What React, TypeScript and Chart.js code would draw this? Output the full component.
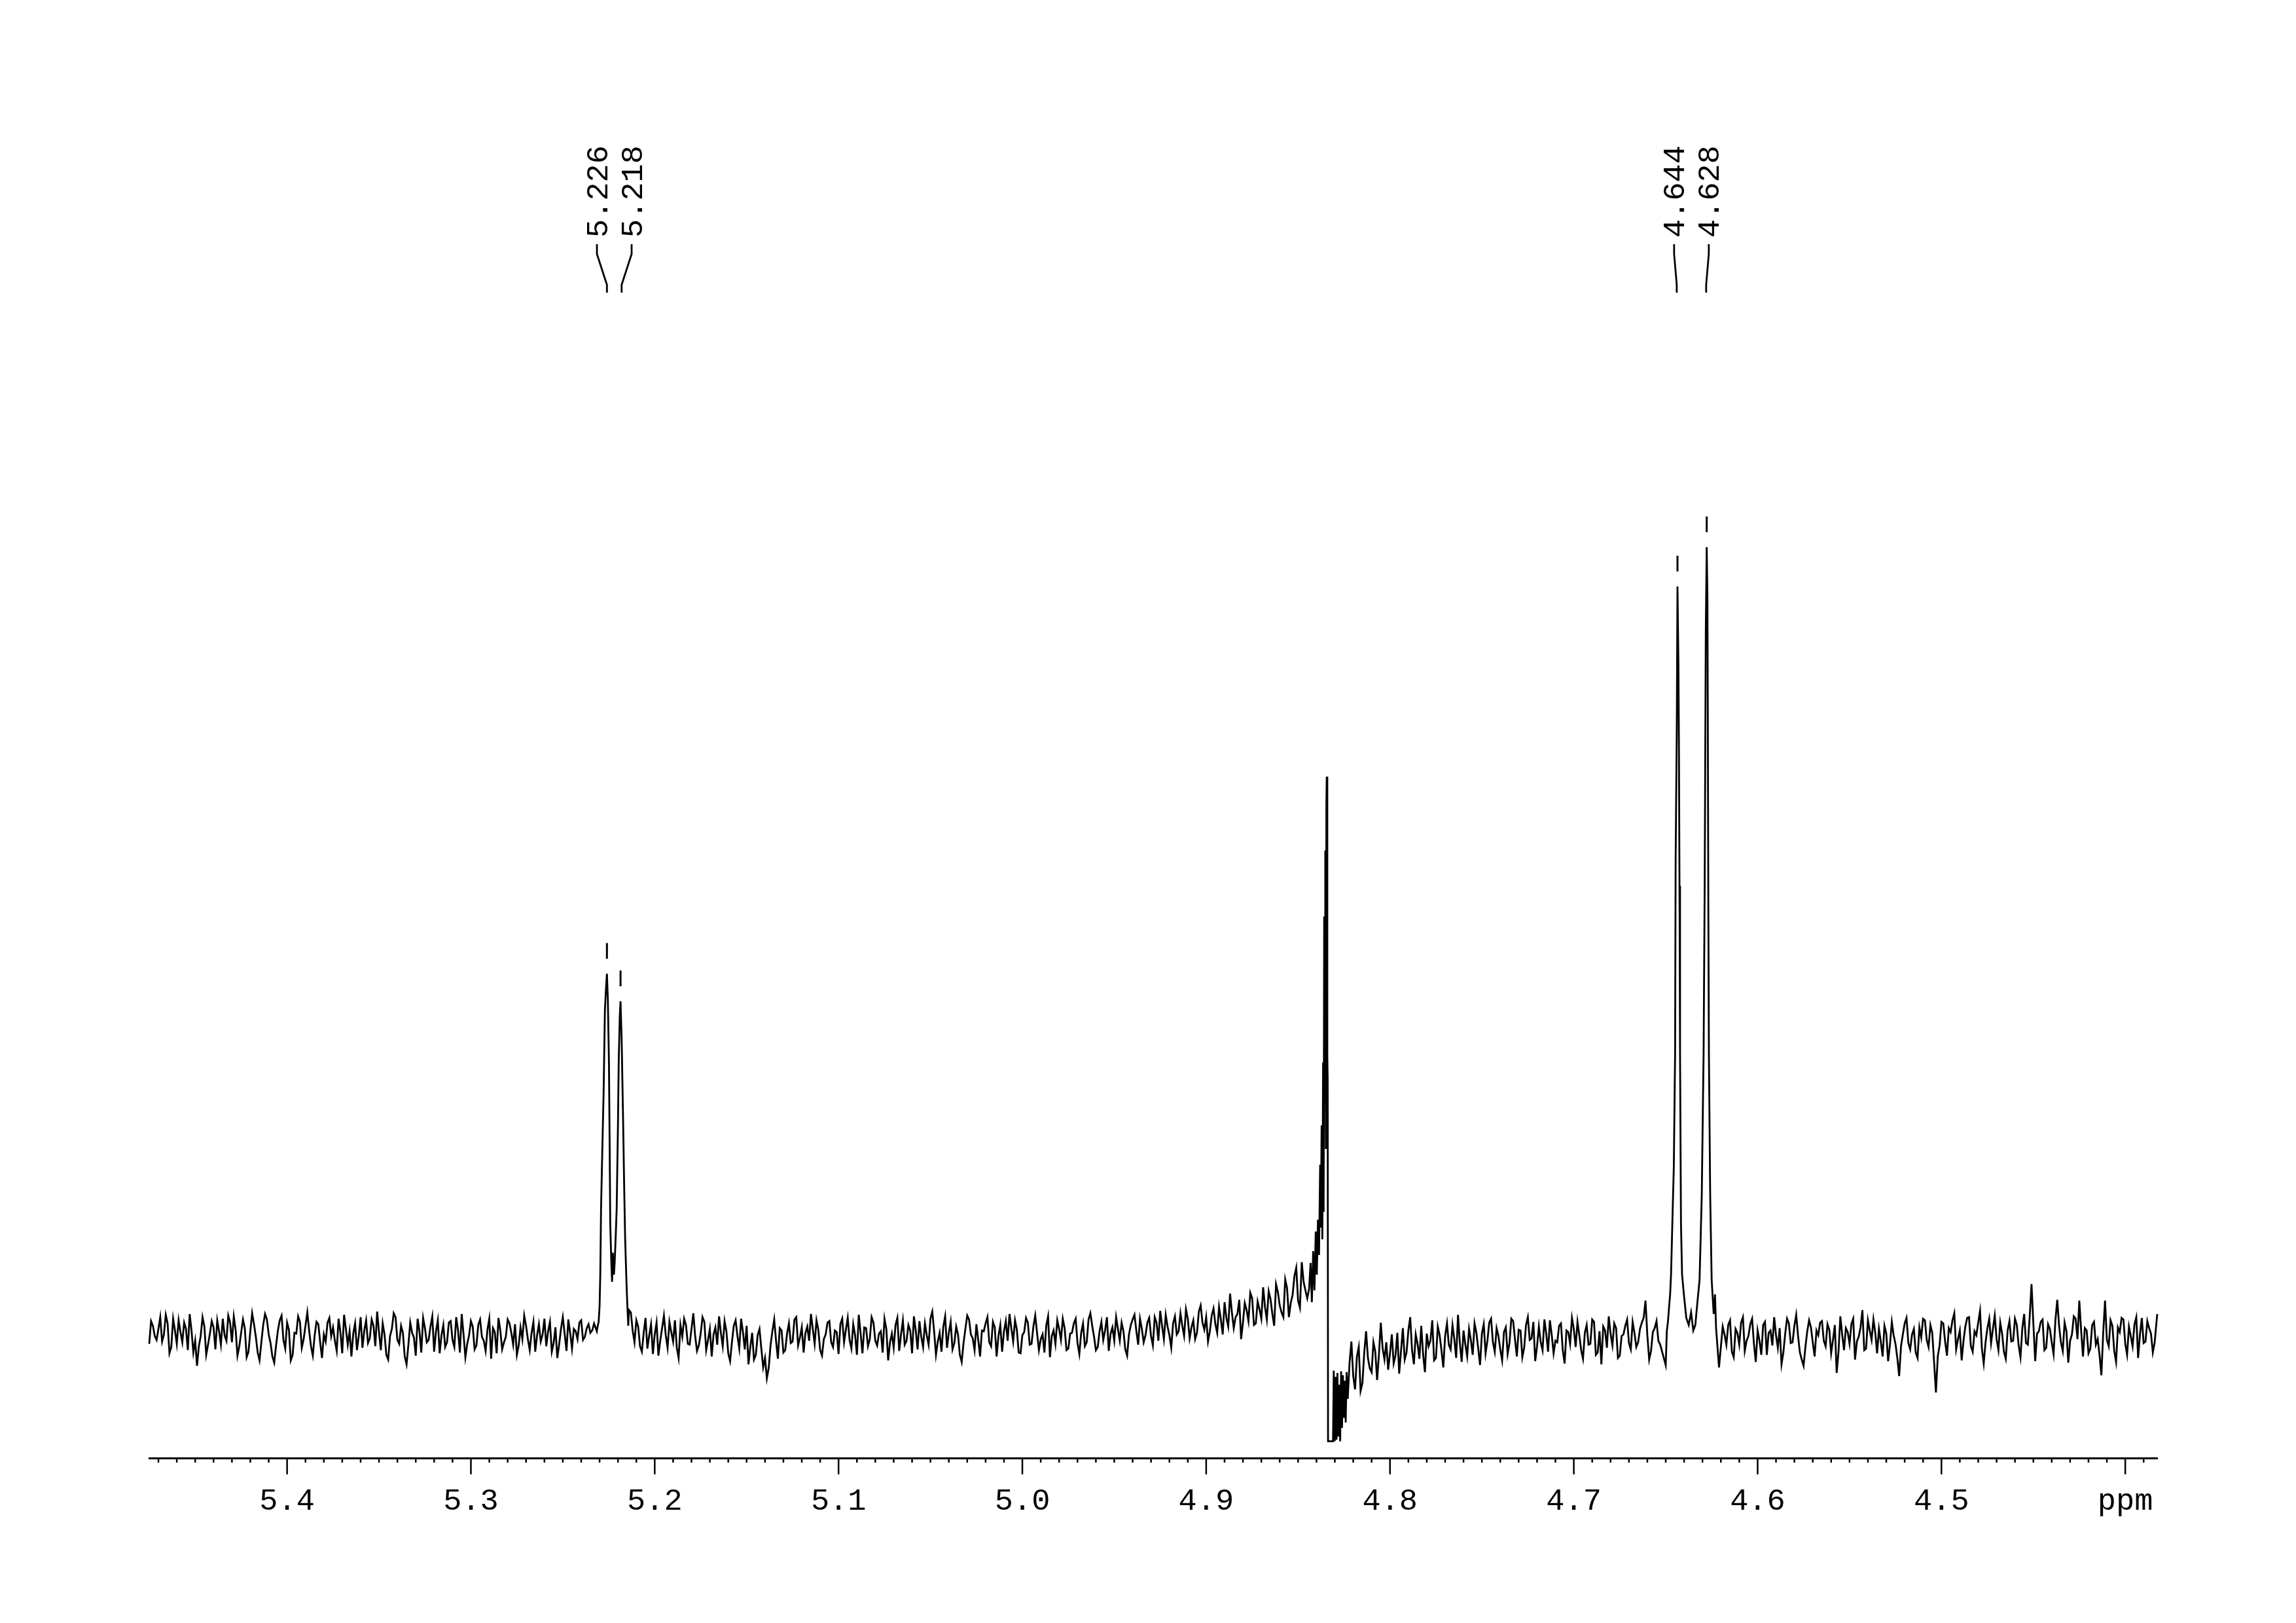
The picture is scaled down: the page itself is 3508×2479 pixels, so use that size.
import React, { useEffect, useRef } from 'react';
import { Chart, registerables } from 'chart.js';

Chart.register(...registerables);

// ---- axis range (ppm, reversed) and intensity range ----
const PPM_LEFT = 5.475;
const PPM_RIGHT = 4.3826;
const INT_MIN = -15.33;
const INT_MAX = 110;
const NOISE_STEP = 0.002;
const MID_OFFSET = 0.001;
const MINOR_TICK_STEP = 0.01;

// ---- tick labels ----
const TICK_VALUES = [5.4, 5.3, 5.2, 5.1, 5.0, 4.9, 4.8, 4.7, 4.6, 4.5, 4.4];
const TICK_LABELS = ['5.4', '5.3', '5.2', '5.1', '5.0', '4.9', '4.8', '4.7', '4.6', '4.5', 'ppm'];

// ---- peak picking labels ----
const PEAK_LABELS = ['5.226', '5.218', '4.644', '4.628'];
const PEAK_POSITIONS = [5.226, 5.218, 4.644, 4.628];

// ---- spectrum: baseline segment 5.475 -> 5.233 ----
const NOISE_A_START = 5.475;
const NOISE_A = [
  -0.8, 1.5, -0.3, 2.6, 0.4, 1.8, -1.2, 0.9, 2.2, -0.6,
  1.1, 3.0, -1.9, -3.6, 0.2, 1.4, -0.9, 2.1, -1.5, 0.8,
  2.4, -0.4, 1.9, 2.7, -2.3, 0.6, 1.2, -1.8, 3.1, 0.1,
  -2.9, 1.6, 2.3, -0.7, -3.2, 0.9, 2.8, -1.4, 1.0, -2.2,
  0.5, 2.0, -0.2, 3.2, -1.1, 0.3, 1.7, -2.6, -0.5, 2.5,
  1.3, -1.7, 0.7, 2.9, -0.9, -2.4, 1.8, 0.2, -1.3, 2.2,
  -0.1, 1.5, 3.3, -1.6, 0.4, -2.8, 1.1, 2.6, -0.8, 0.6,
  -3.4, 1.9, 0.0, 2.4, -1.9, 1.2, -0.3, 2.7, 0.8, -2.0,
  1.6, -0.6, 2.1, -1.2, 0.9, 3.0, -2.5, 0.3, 1.4, -1.0,
  2.3, -0.4, 1.0, -2.7, 0.7, 2.5, -1.5, 0.1, 1.8, -0.9,
  -2.2, 1.3, 2.8, -0.2, 0.6, -1.8, 1.7, 0.4, -1.1, 2.0,
  -0.7, -2.6, 1.1, 0.5, 2.3, -1.4, 0.8, 1.9, -0.3, 1.2,
  0.6, 1.8,
];
const NOISE_A_MID = [
  2.1, 0.2, 1.1, -0.5, 2.9, -2.0, 2.4, -0.8, 0.7, 1.9,
  -1.6, 0.9, -0.4, -1.1, 2.6, -2.2, 0.5, 1.3, 2.2, -0.9,
  0.3, 2.8, -0.6, 1.0, -1.1, 2.3, -2.5, 0.8, 1.7, -1.9,
  -0.6, 3.0, 0.4, -2.4, -1.0, 2.2, -0.3, 1.9, -2.9, 0.6,
  2.7, -1.3, 1.5, 0.9, -2.3, 2.0, -0.6, 0.4, 1.9, 0.2,
  -0.4, 2.4, -2.0, 1.1, 0.8, 0.5, -1.6, 2.6, 0.9, -0.7,
  2.3, -1.1, 0.7, 1.8, -2.2, 0.2, 3.1, -0.3, 1.5, -2.4,
  -0.9, 0.6, -2.3, 0.8, 2.5, -0.6, 1.4, -1.8, 2.2, 0.3,
  -1.2, 1.9, -0.3, 2.6, -1.9, 0.4, -0.8, 2.1, -1.5, 1.6,
  0.1, -1.7, 2.4, 1.2, -2.0, 0.9, -0.6, 2.3, 0.6, 1.7,
  -1.0, -0.2, 1.5, -1.6, 2.0, 0.3, -0.5, 2.4, 0.8, -1.8,
  1.3, -0.9, 2.6, -1.7, 0.6, 1.1, -0.2, 2.2, 0.1, 1.7,
  0.9,
];

// ---- doublet at 5.226 / 5.218 ----
const PEAK_A_PPM = [
  5.2315, 5.2310, 5.2305, 5.2300, 5.2296, 5.2292, 5.2285, 5.2278, 5.2271, 5.2265,
  5.2260, 5.2255, 5.2249, 5.2245, 5.2242, 5.2236, 5.2232, 5.2228, 5.2222, 5.2218,
  5.2212, 5.2207, 5.2200, 5.2196, 5.2190, 5.2186, 5.2180, 5.2172, 5.2166, 5.2161,
  5.2155, 5.2151, 5.2144, 5.2140,
];
const PEAK_A_INT = [
  0.8, 1.5, 2.0, 4.0, 8.2, 16.4, 24.0, 31.3, 41.7, 44.5,
  46.3, 43.0, 35.0, 24.0, 14.5, 9.5, 7.1, 10.8, 8.0, 9.5,
  13.0, 16.4, 27.0, 35.0, 41.0, 42.8, 38.0, 27.6, 19.0, 12.7,
  8.0, 5.3, 1.5, 3.5,
];

// ---- baseline 5.213 -> 4.845, rising into the solvent line ----
const NOISE_B_START = 5.213;
const NOISE_B = [
  3.2, -0.6, 1.4, -1.8, 2.5, 0.3, -2.1, 1.9, -0.4, 2.8,
  -1.3, 0.7, 2.2, -2.6, 0.1, 1.6, -0.9, 3.1, -1.7, 0.5,
  2.0, -0.3, -2.4, 1.3, 2.7, -1.1, 0.8, -3.0, 1.5, 0.2,
  2.4, -1.5, -3.4, 0.6, -2.2, 1.1, -3.8, -5.2, -1.0, 2.3,
  -2.7, 0.9, -1.6, 1.8, -0.5, 2.6, 0.0, -1.9, 1.4, 3.0,
  -0.8, 1.0, -2.3, 0.4, 2.1, -1.2, 0.7, 1.7, -0.6, 2.5,
  -1.4, 0.3, 2.9, -2.0, 1.2, -0.2, 1.9, -1.0, 0.8, 2.4,
  -2.9, 0.5, 1.6, -1.7, 2.2, -0.4, 0.9, 2.7, -1.5, 0.1,
  1.8, -0.9, 3.3, -2.2, 0.6, 1.4, -1.3, 2.0, -0.7, 0.4,
  -3.1, 1.1, 2.3, -0.1, 1.7, -2.4, 0.8, 2.6, -1.1, 1.3,
  0.2, -1.8, 2.1, 3.0, -0.5, 1.0, -2.0, 0.7, 1.9, -0.8,
  2.8, -1.6, 0.4, 1.5, -2.5, 0.9, 2.2, -0.3, 1.2, -1.4,
  0.6, 2.4, -2.1, 1.8, -0.6, 3.1, 0.1, -1.2, 2.0, 0.9,
  -1.7, 1.3, 2.6, -0.4, 0.8, -2.3, 1.6, 2.9, -0.9, 1.1,
  0.3, 2.5, -1.0, 1.9, 3.4, -0.2, 1.4, -1.3, 2.7, 0.8,
  1.5, 3.6, -0.1, 2.2, 0.6, 4.1, 1.0, -0.5, 2.8, 1.7,
  3.9, 0.4, 2.5, 5.6, 1.2, 3.0, -0.2, 4.4, 2.1, 5.0,
  1.8, 3.6, 6.4, 2.3, 4.9, 1.5, 5.8, 3.2, 7.4, 2.6,
  5.4, 8.9, 3.8, 7.1, 5.0,
];
const NOISE_B_MID = [
  0.9, 2.2, -1.1, 0.6, -1.4, 1.7, 0.4, -2.3, 1.2, 0.3,
  2.0, -0.5, -1.3, 1.6, 2.4, -0.8, 1.1, 0.2, -1.0, 2.6,
  -1.6, 1.1, 0.4, -0.9, 0.6, 2.1, -2.0, -0.6, 2.2, -1.4,
  0.7, 1.5, -1.2, -2.8, 0.3, -1.4, -2.6, -3.9, 0.8, -0.4,
  1.2, -1.9, 0.5, -0.7, 2.3, -1.0, 1.3, 0.6, -0.4, 1.1,
  2.2, -1.6, -0.2, 1.9, -0.6, 0.9, -2.1, 2.4, 1.0, -0.3,
  1.7, -2.2, 0.6, 1.3, -1.1, 2.6, -0.4, 0.5, -1.9, 1.1,
  -0.6, -1.3, 2.5, 0.4, -0.9, 1.6, -2.0, 0.9, 2.1, -1.2,
  0.3, 2.4, 0.8, -0.5, -1.8, 2.7, 0.6, -1.5, 1.4, -2.2,
  -0.7, 2.8, 0.4, -1.6, -0.3, 0.9, 1.8, -0.6, 2.0, -2.4,
  1.6, 0.8, -0.4, 1.2, 2.2, -1.9, 0.3, 2.5, -0.9, 1.4,
  0.6, -0.2, -1.9, 2.7, 0.2, -0.8, 1.1, 2.4, -1.6, 0.5,
  1.8, -0.7, 0.6, -1.1, 2.3, 1.5, -1.6, 0.8, -0.3, 2.6,
  0.5, -0.4, 1.1, 1.9, -1.5, 0.4, 2.3, 0.9, 2.4, -0.6,
  1.9, 0.2, 2.6, -0.4, 1.5, 2.9, 0.3, 1.8, 0.4, 3.1,
  0.2, 2.4, 1.3, -0.2, 3.3, 1.9, 2.6, 0.8, 3.7, 0.6,
  2.3, 4.5, 1.4, 3.2, 2.6, 4.8, 1.9, 3.5, 5.7, 1.6,
  4.6, 2.4, 3.9, 5.9, 3.0, 6.8, 4.1, 2.6, 6.3, 4.4,
  7.8, 4.7, 9.6, 6.0,
];

// ---- solvent (dispersive) line near 4.834 ----
const SOLVENT_PPM = [
  4.8440, 4.8432, 4.8425, 4.8418, 4.8411, 4.8404, 4.8398, 4.8392, 4.8386, 4.8380,
  4.8376, 4.8372, 4.8368, 4.8364, 4.8361, 4.8358, 4.8355, 4.8352, 4.8349, 4.8346,
  4.8344, 4.8341, 4.8339, 4.8337, 4.8333, 4.8328, 4.8323, 4.8318, 4.8314, 4.8310,
  4.8306, 4.8301, 4.8296, 4.8291, 4.8286, 4.8281, 4.8276, 4.8271, 4.8266, 4.8261,
  4.8256, 4.8251, 4.8246, 4.8241, 4.8236,
];
const SOLVENT_INT = [
  6.2, 9.5, 4.5, 11.0, 6.0, 13.5, 8.0, 15.0, 10.5, 22.0,
  14.0, 27.0, 12.5, 35.0, 16.0, 53.6, 30.0, 62.0, 24.0, 68.0,
  71.4, 36.0, 32.7, -13.2, -13.2, -13.2, -13.2, -13.2, -13.2, -13.2,
  -4.2, -13.2, -5.0, -13.0, -4.5, -12.6, -6.0, -13.2, -4.3, -11.5,
  -4.8, -10.2, -5.5, -10.8, -4.4,
];

// ---- baseline 4.823 -> 4.653 ----
const NOISE_C_START = 4.823;
const NOISE_C = [
  -7.8, -0.5, -6.6, -1.2, -5.8, 0.8, -3.9, -0.6, -5.4, 1.9,
  -2.8, -4.1, 0.4, -2.3, -4.6, 1.2, -1.9, 2.6, -3.4, -0.8,
  1.5, -4.4, -1.1, 2.2, -2.6, 0.3, -3.8, 1.8, -1.5, -0.2,
  2.9, -3.1, -0.9, 1.1, -2.2, 0.6, -3.5, 1.7, -0.4, 2.4,
  -1.8, 0.2, -2.9, 1.3, -0.7, 2.1, -2.4, 0.9, -1.3, 2.6,
  -0.1, -3.0, 1.4, -1.6, 0.5, 2.2, -2.0, -0.6, 1.8, -3.3,
  0.7, 2.5, -1.2, 0.3, -2.7, 1.6, -0.8, 2.0, -1.9, -3.4,
  0.9, 2.7, -1.0, 1.2, -2.3, 0.4, 2.3, -1.5, 0.6, -0.6,
  1.9, 4.7, -2.8, 0.7, 2.1, -0.9,
];
const NOISE_C_MID = [
  -3.2, -4.9, -2.4, -6.8, -1.9, -2.6, -4.4, -1.8, -2.1, -1.4,
  -0.6, -2.0, -3.3, 0.6, -1.7, -2.8, 0.9, -1.6, 0.4, -2.7,
  -2.1, 0.5, -0.4, -2.9, 1.4, -1.6, 0.2, -0.9, 1.6, -2.6,
  -0.7, 0.9, -2.4, -0.3, 1.8, -1.4, 0.5, -2.0, 1.9, -0.6,
  1.2, -1.5, 0.7, -2.1, 2.4, -0.2, 1.0, -2.5, 1.6, -0.3,
  2.0, -1.1, -0.6, 2.3, -1.8, 0.3, -0.4, 1.5, -1.6, 0.9,
  -0.8, 1.1, 2.0, -1.6, 0.6, -0.9, 2.3, -2.2, 0.8, 1.4,
  -1.3, 0.5, 1.8, -2.6, 0.2, 1.5, -0.7, 2.0, -1.2, 1.1,
  2.5, 0.3, -1.7, 1.2, -0.4,
];

// ---- doublet at 4.644 / 4.628 ----
const PEAK_B_PPM = [
  4.6500, 4.6494, 4.6488, 4.6482, 4.6476, 4.6471, 4.6464, 4.6456, 4.6449, 4.6446,
  4.6440, 4.6436, 4.6431, 4.6428, 4.6425, 4.6422, 4.6417, 4.6411, 4.6400, 4.6388,
  4.6375, 4.6362, 4.6350, 4.6339, 4.6328, 4.6316, 4.6304, 4.6294, 4.6288, 4.6282,
  4.6277, 4.6273, 4.6271, 4.6268, 4.6265, 4.6258, 4.6250, 4.6239, 4.6232, 4.6226,
];
const PEAK_B_INT = [
  -3.5, 0.8, 2.0, 3.8, 5.5, 8.0, 14.5, 21.7, 36.0, 61.0,
  76.9, 95.6, 86.0, 74.7, 57.5, 36.0, 14.5, 8.0, 5.2, 2.5,
  1.6, 3.2, 0.9, 1.6, 4.4, 7.3, 18.0, 36.0, 57.5, 89.8,
  100.6, 94.0, 79.0, 54.0, 36.0, 18.0, 7.3, 3.0, 5.5, 1.2,
];

// ---- baseline 4.621 -> 4.383 ----
const NOISE_D_START = 4.621;
const NOISE_D = [
  -3.8, 1.4, -0.9, 2.2, -2.5, 0.6, 1.9, -1.7, 0.2, 2.4,
  -3.1, -0.4, 1.6, -2.2, 0.9, 2.6, -1.3, -3.4, 0.5, 1.8,
  -0.6, 2.9, -1.9, -3.6, 0.8, 1.3, -2.4, 0.3, 2.1, -1.1,
  1.0, -0.3, -4.5, 2.7, -1.6, 0.7, 1.7, -2.8, 0.1, 3.5,
  -1.4, 0.9, 2.3, -2.0, -0.5, 1.5, -3.0, 2.0, -0.8, -4.9,
  0.4, 2.5, -1.5, 1.1, -2.6, 0.0, 2.2, -1.2, 0.6, -7.0,
  -1.0, 1.8, -2.3, 0.7, 3.1, -0.2, -2.9, 1.4, 2.6, -1.8,
  0.3, 3.4, -3.3, 1.2, -0.7, 2.8, -1.6, 0.5, -2.7, 2.1,
  -0.4, 1.6, -2.5, 3.0, -0.9, 6.8, -3.0, 0.8, 2.3, -1.3,
  1.1, -2.1, 4.8, -0.6, 1.9, -3.2, 0.4, 2.4, 4.7, -2.4,
  0.9, -1.4, 2.0, -0.2, -4.8, 4.7, -1.1, 1.5, -3.1, 0.7,
  2.3, -2.2, 0.2, 1.7, -2.6, 2.5, -0.5, 1.2, -1.9, 2.0,
];
const NOISE_D_MID = [
  -1.2, 0.4, 1.6, -1.8, 1.1, -0.9, 2.6, -0.4, 1.7, -0.8,
  0.9, -2.2, 2.0, 0.6, -1.0, 0.3, 1.2, -1.9, 2.4, -0.7,
  1.5, 0.2, -2.8, -1.2, 2.2, -0.6, 0.9, 1.9, -0.4, 1.7,
  -2.0, 1.6, -1.8, 0.4, 1.2, -0.8, 2.4, -0.5, 1.3, -1.6,
  2.2, -0.3, 0.6, 1.1, -2.4, 0.5, -0.9, 0.3, -2.6, -1.1,
  1.8, -0.7, 0.4, -1.9, 1.3, 2.4, -0.3, 1.6, -3.1, -2.4,
  2.0, -0.5, 1.2, 2.2, -1.5, 0.9, -0.4, 2.5, -1.1, 0.8,
  1.9, -1.4, -0.6, 2.4, 1.1, -0.2, 1.9, -1.8, 0.9, -0.5,
  2.4, -1.0, 1.2, -0.7, 2.6, 1.8, 0.5, 2.0, -1.6, 1.7,
  -0.6, 2.2, 1.5, -1.7, 0.8, -0.4, 2.7, -0.2, 0.9, 1.2,
  -2.0, 1.6, -0.9, -2.2, 0.6, -0.3, 2.2, -1.7, 1.3, 2.5,
  -0.8, 1.4, -1.1, 2.6, 0.4, -0.7, 2.1, 0.5, -0.6,
];
const END_PPM = [4.3826];
const END_INT = [3.0];

// ---- build the table Chart.js needs ----
type Pt = { x: number; y: number };
const gridSeg = (start: number, values: number[]): Pt[] =>
  values.map((v, i) => ({ x: +(start - i * NOISE_STEP).toFixed(4), y: v }));
const pairSeg = (ppm: number[], values: number[]): Pt[] =>
  ppm.map((p, i) => ({ x: p, y: values[i] }));

const SPECTRUM: Pt[] = [
  ...gridSeg(NOISE_A_START, NOISE_A),
  ...gridSeg(NOISE_A_START - MID_OFFSET, NOISE_A_MID),
  ...pairSeg(PEAK_A_PPM, PEAK_A_INT),
  ...gridSeg(NOISE_B_START, NOISE_B),
  ...gridSeg(NOISE_B_START - MID_OFFSET, NOISE_B_MID),
  ...pairSeg(SOLVENT_PPM, SOLVENT_INT),
  ...gridSeg(NOISE_C_START, NOISE_C),
  ...gridSeg(NOISE_C_START - MID_OFFSET, NOISE_C_MID),
  ...pairSeg(PEAK_B_PPM, PEAK_B_INT),
  ...gridSeg(NOISE_D_START, NOISE_D),
  ...gridSeg(NOISE_D_START - MID_OFFSET, NOISE_D_MID),
  ...pairSeg(END_PPM, END_INT),
].sort((a, b) => b.x - a.x);

const FONT_FAMILY = '"Liberation Mono", "DejaVu Sans Mono", monospace';

function spreadLabels(px: number[], gap: number): number[] {
  const order = px.map((p, i) => i).sort((a, b) => px[a] - px[b]);
  let groups: number[][] = order.map((i) => [i]);
  const place = (g: number[]) => {
    const c = g.reduce((s, i) => s + px[i], 0) / g.length;
    return g.map((_, j) => c + (j - (g.length - 1) / 2) * gap);
  };
  let merged = true;
  while (merged) {
    merged = false;
    for (let k = 0; k < groups.length - 1; k++) {
      const a = place(groups[k]);
      const b = place(groups[k + 1]);
      if (b[0] - a[a.length - 1] < gap) {
        groups.splice(k, 2, [...groups[k], ...groups[k + 1]]);
        merged = true;
        break;
      }
    }
  }
  const out = new Array(px.length).fill(0);
  groups.forEach((g) => {
    const pos = place(g);
    g.forEach((i, j) => (out[i] = pos[j]));
  });
  return out;
}

const nmrDecor = {
  id: 'nmrDecor',
  afterDraw(chart: any) {
    const ctx = chart.ctx as CanvasRenderingContext2D;
    const xs = chart.scales.x;
    const ys = chart.scales.y;
    const axisY = chart.chartArea.bottom;
    ctx.save();
    ctx.strokeStyle = '#000';
    ctx.fillStyle = '#000';
    ctx.lineCap = 'butt';

    // minor / major ticks below the axis line
    ctx.lineWidth = 2.5;
    const first = Math.ceil(PPM_RIGHT / MINOR_TICK_STEP);
    const last = Math.floor(PPM_LEFT / MINOR_TICK_STEP);
    for (let k = first; k <= last; k++) {
      const px = xs.getPixelForValue(k * MINOR_TICK_STEP);
      const len = k % 10 === 0 ? 25 : 7;
      ctx.beginPath();
      ctx.moveTo(px, axisY);
      ctx.lineTo(px, axisY + len);
      ctx.stroke();
    }

    // peak markers, connectors and rotated labels
    const data: Pt[] = chart.data.datasets[0].data;
    const peakPx = PEAK_POSITIONS.map((p) => xs.getPixelForValue(p));
    const labelPx = spreadLabels(peakPx, 53);
    PEAK_POSITIONS.forEach((p, i) => {
      let best: Pt | null = null;
      for (const d of data) {
        if (Math.abs(d.x - p) <= 0.0015 && (!best || d.y > best.y)) best = d;
      }
      if (best) {
        const bx = xs.getPixelForValue(best.x);
        const by = ys.getPixelForValue(best.y);
        ctx.lineWidth = 3;
        ctx.beginPath();
        ctx.moveTo(bx, by - 47);
        ctx.lineTo(bx, by - 23);
        ctx.stroke();
      }
      const lx = labelPx[i];
      const px = peakPx[i];
      ctx.lineWidth = 2.8;
      ctx.beginPath();
      ctx.moveTo(lx, 373);
      ctx.lineTo(lx, 388);
      ctx.lineTo(px, 435);
      ctx.lineTo(px, 447);
      ctx.stroke();

      ctx.save();
      ctx.translate(lx + 15.5, 363);
      ctx.rotate(-Math.PI / 2);
      ctx.font = `47px ${FONT_FAMILY}`;
      ctx.textAlign = 'left';
      ctx.textBaseline = 'alphabetic';
      ctx.fillText(PEAK_LABELS[i], 0, 0);
      ctx.restore();
    });
    ctx.restore();
  },
};

export default function App() {
  const canvasRef = useRef<HTMLCanvasElement | null>(null);

  useEffect(() => {
    const canvas = canvasRef.current;
    if (!canvas) return;
    const chart = new Chart(canvas, {
      type: 'line',
      data: {
        datasets: [
          {
            data: SPECTRUM,
            borderColor: '#000',
            borderWidth: 2.8,
            pointRadius: 0,
            tension: 0,
            fill: false,
            clip: false as any,
          },
        ],
      },
      options: {
        animation: false,
        responsive: false,
        devicePixelRatio: 1,
        events: [],
        parsing: false as any,
        normalized: true,
        layout: { padding: { left: 228, right: 212, top: 723, bottom: 0 } },
        plugins: { legend: { display: false }, tooltip: { enabled: false }, title: { display: false } },
        scales: {
          x: {
            type: 'linear',
            reverse: true,
            min: PPM_RIGHT,
            max: PPM_LEFT,
            grid: { display: false, drawTicks: false },
            border: { display: true, color: '#000', width: 3 },
            afterBuildTicks: (scale: any) => {
              scale.ticks = TICK_VALUES.map((v) => ({ value: v }));
            },
            afterFit: (scale: any) => {
              scale.height = 252;
            },
            ticks: {
              autoSkip: false,
              maxRotation: 0,
              minRotation: 0,
              padding: 38,
              color: '#000',
              font: { family: FONT_FAMILY, size: 47 },
              callback: (value: any) => {
                const idx = TICK_VALUES.findIndex((v) => Math.abs(v - Number(value)) < 1e-6);
                return idx >= 0 ? TICK_LABELS[idx] : '';
              },
            },
          },
          y: {
            type: 'linear',
            display: false,
            min: INT_MIN,
            max: INT_MAX,
          },
        },
      },
      plugins: [nmrDecor],
    } as any);
    return () => chart.destroy();
  }, []);

  return (
    <div style={{ position: 'fixed', left: 0, top: 0, width: 3508, height: 2479, background: '#fff' }}>
      <canvas ref={canvasRef} width={3508} height={2479} style={{ display: 'block', width: 3508, height: 2479 }} />
    </div>
  );
}
